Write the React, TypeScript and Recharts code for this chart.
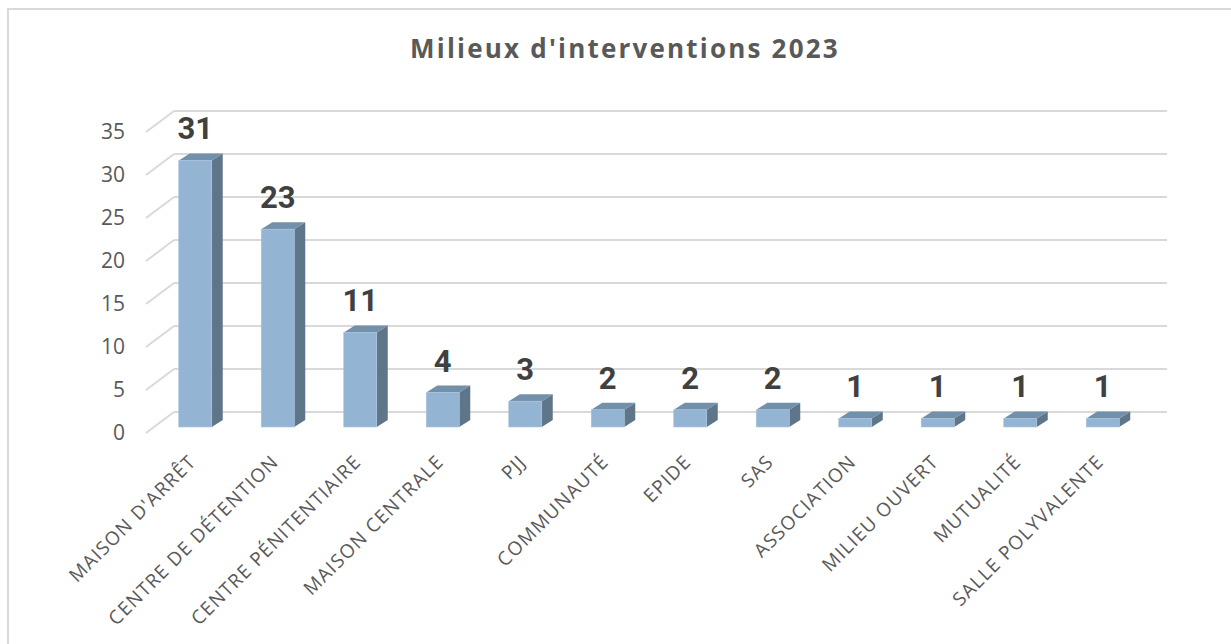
import { BarChart, Bar, XAxis, YAxis, CartesianGrid, LabelList } from "recharts";

// Milieux d'interventions 2023
const categories = [
  "MAISON D'ARRÊT",
  "CENTRE DE DÉTENTION",
  "CENTRE PÉNITENTIAIRE",
  "MAISON CENTRALE",
  "PJJ",
  "COMMUNAUTÉ",
  "EPIDE",
  "SAS",
  "ASSOCIATION",
  "MILIEU OUVERT",
  "MUTUALITÉ",
  "SALLE POLYVALENTE",
];
const values = [31, 23, 11, 4, 3, 2, 2, 2, 1, 1, 1, 1];
const yTicks = [0, 5, 10, 15, 20, 25, 30, 35];

const data = categories.map((name, i) => ({ name, value: values[i] }));

const TEXT = "#595959";
const GRID = "#d9d9d9";
const FONT = "'Open Sans', Lato, sans-serif";

// depth offsets: bars sit between the front edge and the back wall
const BACK = { dx: 20, dy: -15 };
const FRONT = { dx: -8, dy: 6 };
const BAR_DEPTH = { dx: 11, dy: 7 };

// gridline = back wall line + diagonal on the side wall
const GridLine = (props: any) => {
  const { x1, y1, x2, y2 } = props;
  return (
    <g>
      <line
        x1={x1 + FRONT.dx}
        y1={y1 + FRONT.dy}
        x2={x1 + BACK.dx}
        y2={y1 + BACK.dy}
        stroke={GRID}
        strokeWidth={2}
      />
      <line
        x1={x1 + BACK.dx}
        y1={y1 + BACK.dy}
        x2={x2 + BACK.dx + 3}
        y2={y2 + BACK.dy}
        stroke={GRID}
        strokeWidth={2}
      />
    </g>
  );
};

const Box = (props: any) => {
  const { x, y, width, height } = props;
  if (height <= 0) return null;
  const d = BAR_DEPTH;
  const top = `${x},${y} ${x + d.dx},${y - d.dy} ${x + width + d.dx},${y - d.dy} ${x + width},${y}`;
  const side = `${x + width},${y} ${x + width + d.dx},${y - d.dy} ${x + width + d.dx},${y + height - d.dy} ${x + width},${y + height}`;
  return (
    <g>
      <polygon points={side} fill="#5f7589" />
      <polygon points={top} fill="#7290a9" />
      <rect x={x} y={y} width={width} height={height} fill="#93b4d3" stroke="#a9c2de" strokeWidth={0.6} />
    </g>
  );
};

const ValueLabel = (props: any) => {
  const { x, y, width, value } = props;
  return (
    <text
      x={x + width / 2}
      y={y - 21}
      textAnchor="middle"
      fill="#404040"
      fontFamily="Roboto, sans-serif"
      fontWeight={700}
      fontSize={31}
    >
      {value}
    </text>
  );
};

const CategoryTick = (props: any) => {
  const { x, y, payload } = props;
  return (
    <text
      x={x + 2}
      y={y}
      transform={`rotate(-45 ${x + 2} ${y})`}
      textAnchor="end"
      fill={TEXT}
      fontFamily={FONT}
      fontSize={19}
      letterSpacing={1.2}
    >
      {payload.value}
    </text>
  );
};

const ValueTick = (props: any) => {
  const { y, payload } = props;
  return (
    <text
      x={125}
      y={y + FRONT.dy + 7}
      textAnchor="end"
      fill={TEXT}
      fontFamily={FONT}
      fontSize={21}
    >
      {payload.value}
    </text>
  );
};

export default function App() {
  return (
    <div style={{ position: "absolute", left: 0, top: 0, width: 1231, height: 644, overflow: "hidden", background: "#fff" }}>
      <div
        style={{
          position: "absolute",
          left: 7,
          top: 8,
          width: 1300,
          height: 700,
          borderTop: `2px solid ${GRID}`,
          borderLeft: `2px solid ${GRID}`,
        }}
      />
      <div
        style={{
          position: "absolute",
          left: 0,
          top: 30,
          width: 1250,
          textAlign: "center",
          fontFamily: FONT,
          fontWeight: 700,
          fontSize: 26,
          letterSpacing: 2.2,
          color: TEXT,
        }}
      >
        Milieux d'interventions 2023
      </div>
      <div style={{ position: "absolute", left: 0, top: 0 }}>
        <BarChart
          width={1231}
          height={644}
          data={data}
          margin={{ top: 126, right: 87, bottom: 0, left: 94 }}
          barCategoryGap="30%"
        >
          <CartesianGrid vertical={false} horizontal={(p: any) => <GridLine key={p.key} {...p} />} />
          <YAxis
            domain={[0, 35]}
            ticks={yTicks}
            width={60}
            axisLine={false}
            tickLine={false}
            tick={<ValueTick />}
            interval={0}
          />
          <XAxis
            dataKey="name"
            axisLine={false}
            tickLine={false}
            interval={0}
            height={217}
            tick={<CategoryTick />}
            tickMargin={30}
          />
          <Bar dataKey="value" shape={<Box />} isAnimationActive={false} maxBarSize={33}>
            <LabelList dataKey="value" content={<ValueLabel />} />
          </Bar>
        </BarChart>
      </div>
    </div>
  );
}
